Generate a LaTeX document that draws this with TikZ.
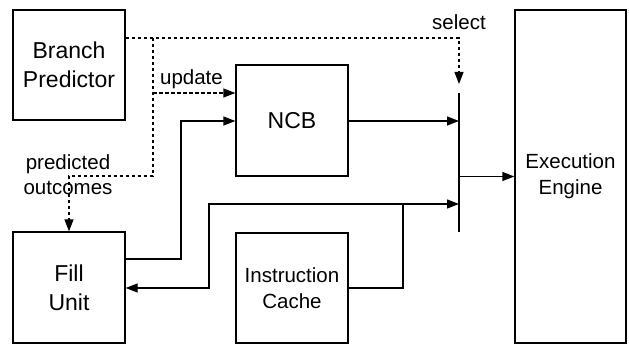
\documentclass[tikz,border=0pt]{standalone}
\usepackage{fontspec}
\setmainfont{Liberation Sans}
\usetikzlibrary{arrows.meta}
\begin{document}
\begin{tikzpicture}[x=1pt,y=-1pt,
  block/.style={draw,line width=1.3pt,inner sep=0pt,align=center,
    font=\fontsize{23}{29}\selectfont},
  smallblock/.style={block,font=\fontsize{20.5}{26}\selectfont},
  lbl/.style={inner sep=0pt,anchor=base,font=\fontsize{20.5}{24}\selectfont},
  wire/.style={line width=1.3pt,-{Triangle[length=12pt,width=9pt]}},
  ctrl/.style={wire,dash pattern=on 3.5pt off 2.5pt},
  plain/.style={line width=1.3pt}]
\useasboundingbox (0,0) rectangle (629,344);

% functional blocks
\node[block,minimum width=112pt,minimum height=110pt] (bp) at (69,65) {Branch\\Predictor};
\node[block,minimum width=112pt,minimum height=111pt] (fill) at (69,287.5) {Fill\\Unit};
\node[block,minimum width=112pt,minimum height=111pt] (ncb) at (292,120.5) {NCB};
\node[smallblock,minimum width=112pt,minimum height=110pt] (ic) at (292,288) {Instruction\\Cache};
\node[smallblock,minimum width=111pt,minimum height=333pt] (ee) at (570.5,176.5) {Execution\\Engine};

% selector bar
\coordinate (muxtop) at (459,93);
\coordinate (muxbot) at (459,232);
\draw[plain] (muxtop) -- (muxbot);
\coordinate (selin) at (459,84);

% routing points
\coordinate (jbp) at (153,38);
\coordinate (jic) at (403,204);

% control lines from the predictor
\draw[ctrl] (bp.east |- jbp) -- (jbp -| selin) -- (selin);
\draw[ctrl] (jbp) -- (153,176) -- (fill.north |- 0,176) -- (fill.north);
\draw[ctrl] (153,93) -- (ncb.west |- 0,93);

% data paths
\draw[wire] (fill.east |- 0,259) -- (181,259) -- (181,121) -- (ncb.west |- 0,121);
\draw[wire] (ncb.east |- 0,121) -- (muxtop |- 0,121);
\draw[wire] (muxtop |- ee.west) -- (ee.west);
\draw[wire] (ic.east) -- (ic.east -| jic) -- (jic) -- (jic -| muxtop);
\draw[wire] (jic) -- (209,204) -- (209,288) -- (fill.east |- 0,288);

% labels
\node[lbl] (tsel) at (459,30) {select};
\node[lbl] (tupd) at (191.5,85) {update};
\node[lbl] (tpred) at (68,170) {predicted};
\node[lbl] (tout) at (68,195) {outcomes};
\end{tikzpicture}
\end{document}
